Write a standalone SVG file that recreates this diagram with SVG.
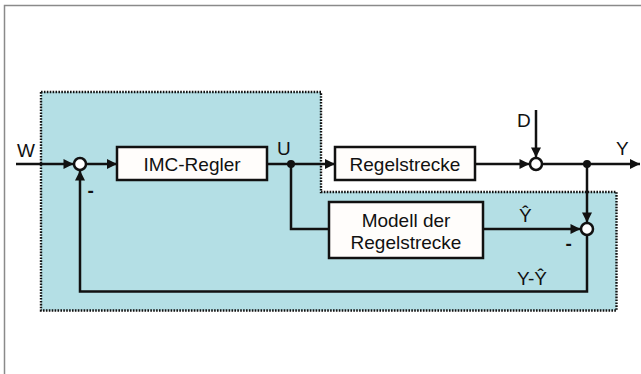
<svg xmlns="http://www.w3.org/2000/svg" width="641" height="374" viewBox="0 0 641 374">
  <style>
    .frame { stroke: #8a8a8a; stroke-width: 1.5; fill: none; }
    .zone { fill: #b4dfe5; stroke: #111; stroke-width: 2.4; stroke-dasharray: 1.6 1.3; }
    .box { fill: #fffdfb; stroke: #111; stroke-width: 2.5; }
    .sum { fill: #ffffff; stroke: #111; stroke-width: 2.5; }
    .dot { fill: #111; }
    .wire { fill: none; stroke: #111; stroke-width: 2.5; }
    .arr { marker-end: url(#head); }
    text { font-family: "Liberation Sans", Arial, sans-serif; font-size: 19px; fill: #111; }
    .mid { text-anchor: middle; }
    .sign { font-weight: bold; }
  </style>
  <defs>
    <marker id="head" viewBox="0 0 10 10" refX="10" refY="5" markerWidth="4.6" markerHeight="4" markerUnits="strokeWidth" orient="auto">
      <path d="M0,0 L10,5 L0,10 Z" fill="#111"/>
    </marker>
  </defs>

  <rect width="641" height="374" fill="#ffffff"/>
  <!-- frame edges -->
  <path class="frame" d="M4.5,374 V5.5 H641"/>

  <!-- shaded controller region -->
  <path class="zone" d="M41,92 H321 V192 H616.5 V310.5 H41 Z"/>

  <g id="connectors">
    <line class="wire arr" x1="16" y1="164" x2="73.5" y2="164"/>
    <line class="wire arr" x1="86" y1="164" x2="117" y2="164"/>
    <line class="wire arr" x1="267" y1="164" x2="335" y2="164"/>
    <polyline class="wire" points="291,164 291,229 329,229"/>
    <line class="wire arr" x1="475" y1="164" x2="529.5" y2="164"/>
    <line class="wire arr" x1="536" y1="110" x2="536" y2="157.5"/>
    <line class="wire arr" x1="542.5" y1="164" x2="640" y2="164"/>
    <line class="wire arr" x1="587" y1="164" x2="587" y2="222.5"/>
    <line class="wire arr" x1="483" y1="229" x2="580.5" y2="229"/>
    <polyline class="wire arr" points="587,235.5 587,291.5 80,291.5 80,170.5"/>
  </g>

  <g id="input-w">
    <text x="17" y="157">W</text>
  </g>

  <g id="sum-input">
    <circle class="sum" cx="80" cy="164" r="6"/>
    <text class="sign" x="87.5" y="197">-</text>
  </g>

  <g id="imc-regler">
    <rect class="box" x="117" y="147" width="150" height="33"/>
    <text class="mid" x="192" y="171">IMC-Regler</text>
  </g>

  <g id="branch-u">
    <circle class="dot" cx="291" cy="164" r="4"/>
    <text x="277" y="155">U</text>
  </g>

  <g id="regelstrecke">
    <rect class="box" x="335" y="147" width="140" height="33"/>
    <text class="mid" x="405" y="171">Regelstrecke</text>
  </g>

  <g id="sum-disturbance">
    <circle class="sum" cx="536" cy="164" r="6"/>
    <text x="517" y="127">D</text>
  </g>

  <g id="branch-y">
    <circle class="dot" cx="587" cy="164" r="4"/>
    <text x="616" y="155">Y</text>
  </g>

  <g id="modell">
    <rect class="box" x="329" y="202" width="154" height="56"/>
    <text class="mid" x="406" y="227">Modell der</text>
    <text class="mid" x="406" y="249">Regelstrecke</text>
  </g>

  <g id="sum-model">
    <circle class="sum" cx="587" cy="229" r="6"/>
    <text x="519" y="222">Ŷ</text>
    <text class="sign" x="565.5" y="250">-</text>
    <text x="517" y="285">Y-Ŷ</text>
  </g>
</svg>
